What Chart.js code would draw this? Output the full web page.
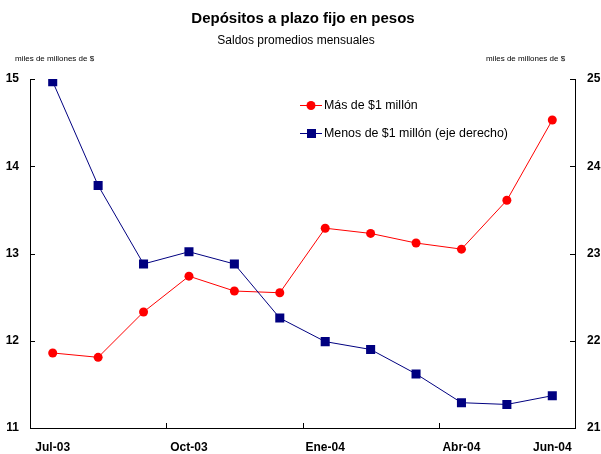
<!DOCTYPE html>
<html>
<head>
<meta charset="utf-8">
<script src="https://cdn.jsdelivr.net/npm/chart.js@4"></script>
<style>
  html, body { margin: 0; padding: 0; background: #fff; }
  #wrap { width: 601px; height: 454px; }
</style>
</head>
<body>
<div id="wrap"><canvas id="c" width="601" height="454"></canvas></div>
<script>
const categories = ["Jul-03","Ago-03","Sep-03","Oct-03","Nov-03","Dic-03","Ene-04","Feb-04","Mar-04","Abr-04","May-04","Jun-04"];
const shownLabels = ["Jul-03","Oct-03","Ene-04","Abr-04","Jun-04"];
const masDe1Millon = [11.86, 11.81, 12.33, 12.74, 12.57, 12.55, 13.29, 13.23, 13.12, 13.05, 13.61, 14.53];
const menosDe1Millon = [24.97, 23.78, 22.88, 23.02, 22.88, 22.26, 21.99, 21.90, 21.62, 21.29, 21.27, 21.37];
const leftTicks = [11, 12, 13, 14, 15];
const rightTicks = [21, 22, 23, 24, 25];
const seriesNames = ["Más de $1 millón", "Menos de $1 millón (eje derecho)"];
const titleText = "Depósitos a plazo fijo en pesos";
const subtitleText = "Saldos promedios mensuales";
const unitText = "miles de millones de $";

const RED = "#FF0000";
const NAVY = "#000080";
const FONT = "'Liberation Sans', Arial, sans-serif";

const decorPlugin = {
  id: 'decor',
  afterDraw(chart) {
    const ctx = chart.ctx;
    const area = chart.chartArea;
    const x = chart.scales.x, yl = chart.scales.y, yr = chart.scales.y2;
    ctx.save();
    ctx.strokeStyle = '#000';
    ctx.lineWidth = 1;
    // inward tick marks on y axes
    leftTicks.forEach(v => {
      const py = Math.round(yl.getPixelForValue(v)) + 0.5;
      ctx.beginPath(); ctx.moveTo(area.left, py); ctx.lineTo(area.left + 5, py); ctx.stroke();
    });
    rightTicks.forEach(v => {
      const py = Math.round(yr.getPixelForValue(v)) + 0.5;
      ctx.beginPath(); ctx.moveTo(area.right - 5, py); ctx.lineTo(area.right, py); ctx.stroke();
    });
    // inward tick marks on x axis, at quarter boundaries
    [3, 6, 9].forEach(i => {
      const px = Math.round((x.getPixelForValue(i - 1) + x.getPixelForValue(i)) / 2) + 0.5;
      ctx.beginPath(); ctx.moveTo(px, area.bottom); ctx.lineTo(px, area.bottom - 5); ctx.stroke();
    });
    // titles
    ctx.fillStyle = '#000';
    ctx.textAlign = 'center';
    ctx.textBaseline = 'alphabetic';
    ctx.font = "bold 15px " + FONT;
    ctx.fillText(titleText, 303, 23);
    ctx.font = "12px " + FONT;
    ctx.fillText(subtitleText, 296, 44);
    ctx.font = "8px " + FONT;
    ctx.textAlign = 'left';
    ctx.fillText(unitText, 15, 61);
    ctx.fillText(unitText, 486, 61);
    // legend
    const rows = [105, 133];
    chart.data.datasets.forEach((ds, i) => {
      const ry = rows[i] + 0.5;
      ctx.strokeStyle = ds.borderColor;
      ctx.lineWidth = 1;
      ctx.beginPath(); ctx.moveTo(300, ry); ctx.lineTo(322, ry); ctx.stroke();
      ctx.fillStyle = ds.backgroundColor;
      if (ds.pointStyle === 'rect') {
        ctx.fillRect(307, rows[i] - 4, 9, 9);
      } else {
        ctx.beginPath(); ctx.arc(311, ry, 4.5, 0, Math.PI * 2); ctx.fill();
      }
      ctx.fillStyle = '#000';
      ctx.font = "12.4px " + FONT;
      ctx.textBaseline = 'middle';
      ctx.fillText(ds.label, 324, ry);
    });
    ctx.restore();
  }
};

new Chart(document.getElementById('c'), {
  type: 'line',
  data: {
    labels: categories,
    datasets: [
      {
        label: seriesNames[0],
        data: masDe1Millon,
        yAxisID: 'y',
        borderColor: RED,
        backgroundColor: RED,
        borderWidth: 1,
        pointStyle: 'circle',
        pointRadius: 4.5,
        pointBorderWidth: 0,
        pointHoverRadius: 4.5,
        tension: 0,
        order: 2
      },
      {
        label: seriesNames[1],
        data: menosDe1Millon,
        yAxisID: 'y2',
        borderColor: NAVY,
        backgroundColor: NAVY,
        borderWidth: 1,
        pointStyle: 'rect',
        pointRadius: 6.4,
        pointBorderWidth: 0,
        pointHoverRadius: 6.4,
        tension: 0,
        order: 1
      }
    ]
  },
  options: {
    responsive: false,
    animation: false,
    events: [],
    layout: { padding: { top: 79, left: 0, right: 0, bottom: 0 } },
    plugins: {
      legend: { display: false },
      title: { display: false },
      tooltip: { enabled: false }
    },
    scales: {
      x: {
        type: 'category',
        offset: true,
        grid: { display: false, drawTicks: false },
        border: { display: true, color: '#000', width: 1 },
        ticks: {
          autoSkip: false,
          maxRotation: 0,
          minRotation: 0,
          padding: 12,
          color: '#000',
          font: { family: FONT, size: 12, weight: 'bold' },
          callback: function(val, idx) {
            const lab = categories[idx];
            return shownLabels.includes(lab) ? lab : '';
          }
        },
        afterFit(scale) { scale.height = 26; }
      },
      y: {
        position: 'left',
        min: 11, max: 15,
        grid: { display: false, drawTicks: false },
        border: { display: true, color: '#000', width: 1 },
        afterBuildTicks(scale) { scale.ticks = leftTicks.map(v => ({ value: v })); },
        ticks: {
          padding: 11,
          color: '#000',
          font: { family: FONT, size: 12, weight: 'bold' }
        },
        afterFit(scale) { scale.width = 30; }
      },
      y2: {
        position: 'right',
        min: 21, max: 25,
        grid: { display: false, drawTicks: false },
        border: { display: true, color: '#000', width: 1 },
        afterBuildTicks(scale) { scale.ticks = rightTicks.map(v => ({ value: v })); },
        ticks: {
          padding: 12,
          color: '#000',
          font: { family: FONT, size: 12, weight: 'bold' }
        },
        afterFit(scale) { scale.width = 26; }
      }
    }
  },
  plugins: [decorPlugin]
});
</script>
</body>
</html>
